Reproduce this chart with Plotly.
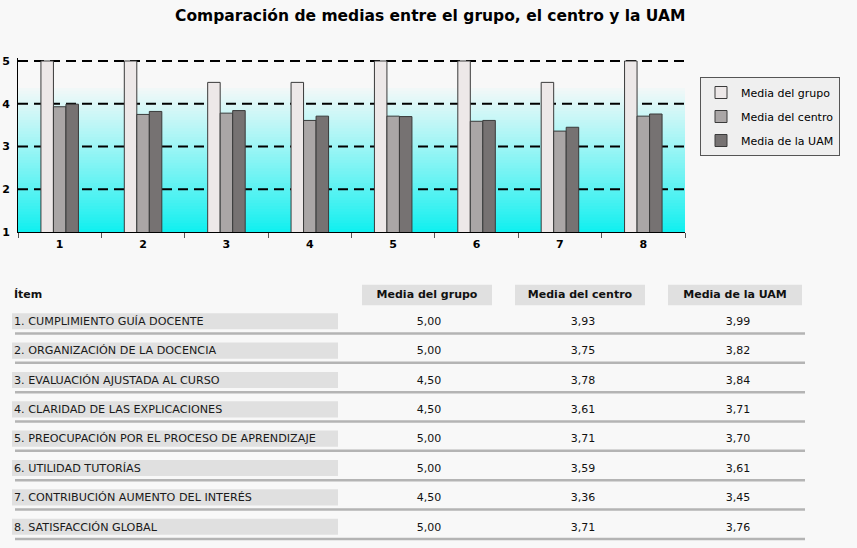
import plotly.graph_objects as go

# ---------------- data ----------------
categories = ["1", "2", "3", "4", "5", "6", "7", "8"]
series_names = ["Media del grupo", "Media del centro", "Media de la UAM"]
media_grupo = [5.00, 5.00, 4.50, 4.50, 5.00, 5.00, 4.50, 5.00]
media_centro = [3.93, 3.75, 3.78, 3.61, 3.71, 3.59, 3.36, 3.71]
media_uam = [3.99, 3.82, 3.84, 3.71, 3.70, 3.61, 3.45, 3.76]
items = [
    "1. CUMPLIMIENTO GUÍA DOCENTE",
    "2. ORGANIZACIÓN DE LA DOCENCIA",
    "3. EVALUACIÓN AJUSTADA AL CURSO",
    "4. CLARIDAD DE LAS EXPLICACIONES",
    "5. PREOCUPACIÓN POR EL PROCESO DE APRENDIZAJE",
    "6. UTILIDAD TUTORÍAS",
    "7. CONTRIBUCIÓN AUMENTO DEL INTERÉS",
    "8. SATISFACCIÓN GLOBAL",
]
y_ticks = [1, 2, 3, 4, 5]
grid_vals = [2, 3, 4, 5]
title_text = "Comparación de medias entre el grupo, el centro y la UAM"
item_header = "Ítem"

# ---------------- styling ----------------
W, H = 857, 548
FONT = "DejaVu Sans"
bar_colors = ["#ede8e8", "#aaa6a6", "#767272"]
page_bg = "#f8f8f8"

fig = go.Figure()

series_vals = [media_grupo, media_centro, media_uam]
for name, vals, col in zip(series_names, series_vals, bar_colors):
    fig.add_trace(go.Bar(
        x=categories, y=vals, name=name, legendgroup=name,
        marker=dict(color=col, line=dict(color="#3a3a3a", width=1)),
        xaxis="x", yaxis="y", hoverinfo="skip",
    ))

# gradient background (styling strips, slightly overlapping to avoid seams)
n_strips = 50
g_lo, g_hi = 1.0, 4.37
for k in range(n_strips):
    t0 = g_lo + (g_hi - g_lo) * k / n_strips
    t1 = g_lo + (g_hi - g_lo) * (k + 1) / n_strips
    f = (k + 0.5) / n_strips
    r = int(14 + (244 - 14) * f ** 0.9)
    g = int(240 + (249 - 240) * f)
    fig.add_shape(type="rect", xref="x domain", yref="y", x0=0, x1=1, y0=t0,
                  y1=min(t1 + 0.03, g_hi),
                  fillcolor=f"rgb({r},{g},{g})", line=dict(width=0), layer="below")

for gv in grid_vals:
    fig.add_shape(type="line", xref="x domain", yref="y", x0=0, x1=1, y0=gv, y1=gv,
                  line=dict(color="black", width=2, dash="10px,6px"), layer="below")

# ---------------- table ----------------
row_idx = list(range(len(items)))
col_centers = [429, 583, 738]
header_cells = [(362, 492), (515, 645), (668, 802)]
header_row = -0.93

for (x0, x1), name in zip(header_cells, series_names):
    fig.add_shape(type="rect", xref="x2", yref="y2", x0=x0, x1=x1,
                  y0=header_row - 0.35, y1=header_row + 0.35,
                  fillcolor="#e0e0e0", line=dict(width=0), layer="below")
for r in row_idx:
    fig.add_shape(type="rect", xref="x2", yref="y2", x0=12, x1=338,
                  y0=r - 0.31, y1=r + 0.24,
                  fillcolor="#e0e0e0", line=dict(width=0), layer="below")
    fig.add_shape(type="line", xref="x2", yref="y2", x0=15, x1=805,
                  y0=r + 0.38, y1=r + 0.38,
                  line=dict(color="#b4b4b4", width=2.5), layer="below")

fig.add_trace(go.Scatter(
    x=[14] * len(items), y=row_idx, text=items, mode="text",
    textposition="middle right", textfont=dict(family=FONT, size=11.2, color="#1a1a1a"),
    xaxis="x2", yaxis="y2", showlegend=False, hoverinfo="skip"))

for cx, vals in zip(col_centers, series_vals):
    fig.add_trace(go.Scatter(
        x=[cx] * len(vals), y=row_idx, text=[f"{v:.2f}".replace(".", ",") for v in vals],
        mode="text", textposition="middle center",
        textfont=dict(family=FONT, size=11, color="#111111"),
        xaxis="x2", yaxis="y2", showlegend=False, hoverinfo="skip"))

fig.add_trace(go.Scatter(
    x=[(a + b) / 2 for a, b in header_cells], y=[header_row] * 3, text=series_names,
    mode="text", textposition="middle center",
    textfont=dict(family=FONT, size=11, color="#111111", weight="bold"),
    xaxis="x2", yaxis="y2", showlegend=False, hoverinfo="skip"))
fig.add_trace(go.Scatter(
    x=[14], y=[header_row], text=[item_header], mode="text", textposition="middle right",
    textfont=dict(family=FONT, size=11, color="#111111", weight="bold"),
    xaxis="x2", yaxis="y2", showlegend=False, hoverinfo="skip"))

# table y axis: row 0 at ~322px, 29.35px per row, spanning full page
p0, step = 322.3, 29.35
y2_top = (0 - p0) / step
y2_bot = (H - p0) / step

# bar chart: value 5 at 61px, value 1 at 232px; small headroom so the top grid line isn't clipped
y_hi = 5.06
px_per_unit = (232 - 61) / 4
top_px = 61 - (y_hi - 5) * px_per_unit

fig.update_layout(
    width=W, height=H,
    margin=dict(l=0, r=0, t=0, b=0, autoexpand=False),
    paper_bgcolor=page_bg, plot_bgcolor="rgba(0,0,0,0)",
    font=dict(family=FONT, size=11, color="black"),
    barmode="group", bargap=0.55, bargroupgap=0,
    title=dict(text=title_text, x=0.502, xanchor="center", y=1 - 16 / H, yanchor="middle",
               font=dict(family=FONT, size=15.5, color="black", weight="bold")),
    xaxis=dict(domain=[18 / W, 685 / W], type="category", anchor="y", automargin=False,
               tickson="boundaries", ticks="outside", ticklen=5, tickcolor="#555555",
               showline=True, linecolor="black", linewidth=1, showgrid=False,
               ticklabelstandoff=2,
               tickfont=dict(family=FONT, size=11, color="black", weight="bold")),
    yaxis=dict(domain=[1 - 232 / H, 1 - top_px / H], range=[1, y_hi], anchor="x",
               automargin=False,
               tickvals=y_ticks, showline=True, linecolor="black", linewidth=1,
               showgrid=False, zeroline=False, ticks="", ticklabelstandoff=5,
               tickfont=dict(family=FONT, size=11, color="black", weight="bold")),
    xaxis2=dict(domain=[0, 1], range=[0, W], anchor="y2", visible=False, automargin=False),
    yaxis2=dict(domain=[0, 1], range=[y2_bot, y2_top], anchor="x2", visible=False,
                automargin=False),
    legend=dict(x=700 / W, y=1 - 77 / H, xanchor="left", yanchor="top",
                bgcolor="#efefef", bordercolor="#555555", borderwidth=1,
                font=dict(family=FONT, size=11, color="black"),
                tracegroupgap=5, itemwidth=30),
    showlegend=True,
)

fig.write_html("out.html")
